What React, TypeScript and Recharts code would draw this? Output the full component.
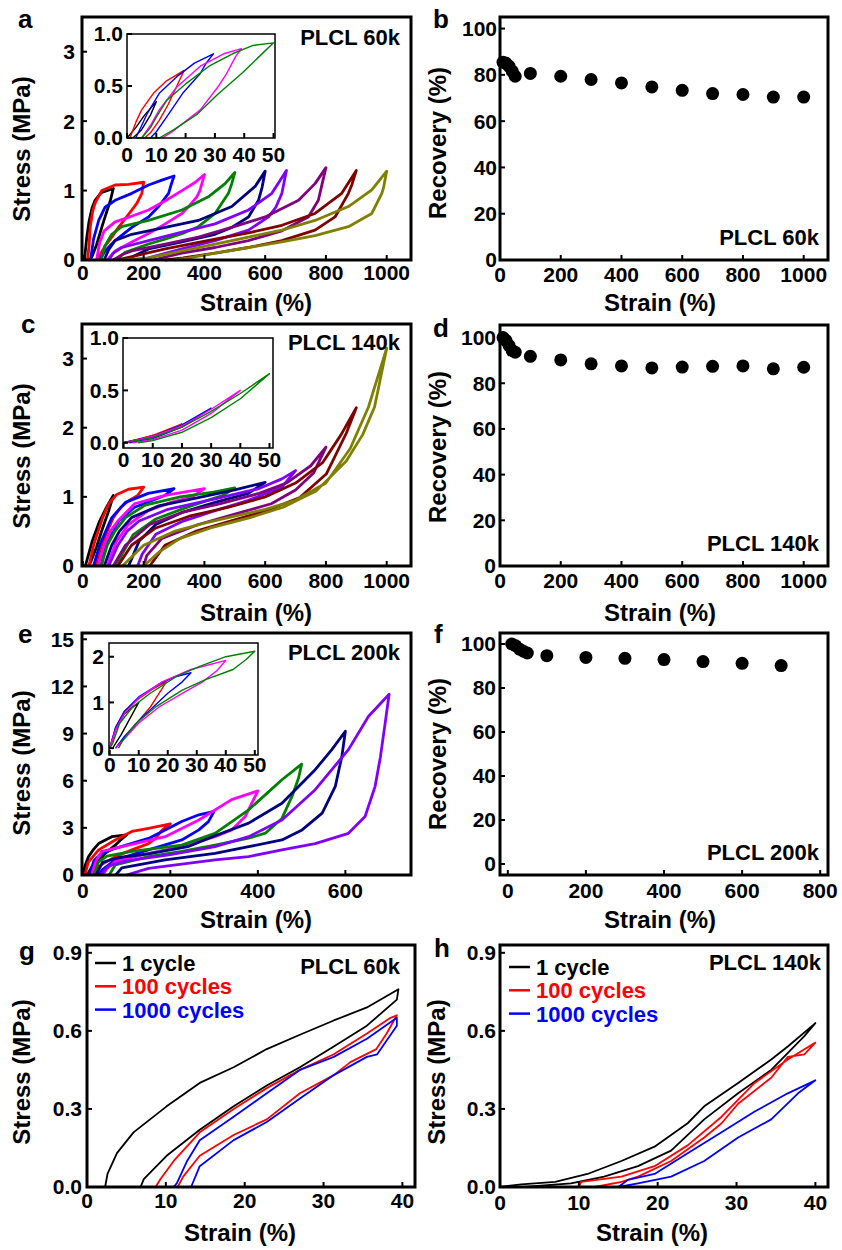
import React from 'react';
import { LineChart, Line, ScatterChart, Scatter, XAxis, YAxis } from 'recharts';

const FONT = '"Liberation Sans", Arial, Helvetica, sans-serif';

// Origin-like colour order used for the 100%, 200% ... loops
const loopColors = ['#000000', '#ff0000', '#0000ff', '#ff00ff', '#008000', '#000080', '#8000ff', '#800080', '#800000', '#808000'];
const cycleColors = ['#000000', '#ff0000', '#0000ff'];
const cycleNames = ['1 cycle', '100 cycles', '1000 cycles'];

// each loop: [strain %, stress MPa], loading then unloading
// a: PLCL 60k
const loops60k: number[][][] = [
  [[5, 0], [12, 0.3], [20, 0.55], [30, 0.75], [40, 0.86], [60, 0.97], [100, 1.03], [90, 0.85], [75, 0.65], [62, 0.47], [45, 0.22], [30, 0.05], [22, 0]],
  [[15, 0], [20, 0.2], [24, 0.47], [32, 0.7], [40, 0.82], [62, 1.0], [106, 1.08], [150, 1.09], [200, 1.12], [194, 0.96], [178, 0.82], [161, 0.72], [140, 0.6], [117, 0.47], [95, 0.33], [73, 0.2], [55, 0.07], [45, 0]],
  [[25, 0], [35, 0.3], [52, 0.57], [73, 0.76], [106, 0.86], [161, 0.96], [216, 1.08], [260, 1.15], [300, 1.21], [290, 1.08], [282, 0.96], [249, 0.77], [216, 0.62], [161, 0.47], [106, 0.28], [73, 0.13], [55, 0]],
  [[45, 0], [55, 0.25], [70, 0.42], [106, 0.55], [160, 0.63], [216, 0.72], [270, 0.85], [326, 1.0], [370, 1.12], [400, 1.23], [385, 1.0], [375, 0.91], [350, 0.78], [326, 0.67], [271, 0.52], [216, 0.38], [161, 0.26], [106, 0.13], [80, 0]],
  [[60, 0], [72, 0.2], [95, 0.37], [128, 0.48], [216, 0.57], [326, 0.72], [413, 0.91], [468, 1.1], [500, 1.26], [490, 1.1], [479, 0.96], [435, 0.67], [380, 0.48], [326, 0.38], [270, 0.3], [216, 0.23], [139, 0.11], [110, 0]],
  [[70, 0], [85, 0.15], [106, 0.28], [161, 0.37], [271, 0.47], [380, 0.57], [490, 0.77], [567, 1.06], [600, 1.28], [590, 1.05], [578, 0.86], [545, 0.62], [490, 0.47], [435, 0.37], [326, 0.26], [216, 0.16], [170, 0.06], [150, 0]],
  [[85, 0], [100, 0.1], [128, 0.18], [216, 0.28], [326, 0.4], [435, 0.52], [545, 0.72], [622, 0.96], [670, 1.29], [655, 0.96], [635, 0.76], [611, 0.62], [545, 0.43], [435, 0.28], [326, 0.16], [240, 0.06], [190, 0]],
  [[100, 0], [130, 0.08], [161, 0.13], [271, 0.23], [380, 0.33], [490, 0.47], [600, 0.62], [710, 0.86], [764, 1.1], [800, 1.33], [785, 1.05], [775, 0.86], [742, 0.62], [655, 0.42], [545, 0.28], [435, 0.18], [326, 0.1], [230, 0]],
  [[110, 0], [161, 0.05], [271, 0.16], [435, 0.3], [545, 0.39], [655, 0.5], [764, 0.67], [852, 0.96], [900, 1.29], [885, 1.08], [874, 0.96], [830, 0.62], [764, 0.43], [655, 0.28], [545, 0.18], [435, 0.1], [330, 0.03], [270, 0]],
  [[130, 0], [216, 0.03], [326, 0.13], [435, 0.23], [545, 0.33], [655, 0.43], [764, 0.57], [874, 0.77], [951, 1.01], [1000, 1.28], [990, 1.05], [984, 0.96], [951, 0.67], [874, 0.48], [764, 0.35], [655, 0.26], [545, 0.18], [435, 0.1], [350, 0.03], [300, 0]],
];
const loops60kSmall: number[][][] = [
  [[0, 0], [3, 0.1], [6, 0.22], [10, 0.35], [8, 0.22], [5, 0.08], [2, 0]],
  [[1, 0], [3, 0.15], [5, 0.27], [9, 0.43], [13.5, 0.55], [19.5, 0.65], [17, 0.5], [14, 0.32], [11, 0.17], [8, 0.05], [6, 0]],
  [[3, 0], [5, 0.12], [7, 0.24], [11, 0.43], [17, 0.59], [23, 0.72], [29.5, 0.81], [27, 0.72], [25, 0.62], [19, 0.43], [13.5, 0.2], [10, 0.06], [8, 0]],
  [[5, 0], [8, 0.12], [11, 0.27], [17, 0.49], [25, 0.69], [33, 0.81], [39, 0.86], [37, 0.78], [34, 0.62], [31, 0.49], [25, 0.27], [19, 0.14], [15.5, 0.06], [12, 0]],
  [[5, 0], [8, 0.1], [10, 0.2], [13.5, 0.36], [20, 0.52], [28, 0.69], [36, 0.81], [43, 0.89], [50, 0.915], [45, 0.78], [39.5, 0.63], [31, 0.42], [24, 0.23], [16, 0.08], [11, 0], [3, 0]],
];

// c: PLCL 140k
const loops140k: number[][][] = [
  [[8, 0], [30, 0.35], [55, 0.65], [80, 0.87], [100, 1.02], [85, 0.8], [65, 0.55], [45, 0.28], [25, 0.05], [18, 0]],
  [[20, 0], [35, 0.3], [50, 0.5], [65, 0.7], [85, 0.9], [110, 1.03], [150, 1.11], [200, 1.14], [180, 1.02], [150, 0.94], [125, 0.85], [100, 0.7], [80, 0.5], [60, 0.28], [45, 0.05], [40, 0]],
  [[35, 0], [55, 0.3], [75, 0.5], [95, 0.7], [140, 0.92], [215, 1.05], [300, 1.12], [270, 1.02], [230, 0.95], [170, 0.85], [120, 0.66], [90, 0.45], [70, 0.2], [60, 0]],
  [[50, 0], [70, 0.3], [90, 0.5], [115, 0.65], [170, 0.9], [270, 1.02], [400, 1.12], [360, 1.0], [290, 0.92], [215, 0.8], [150, 0.6], [110, 0.35], [90, 0.12], [80, 0]],
  [[60, 0], [80, 0.3], [105, 0.5], [140, 0.7], [205, 0.88], [320, 1.0], [430, 1.07], [500, 1.13], [460, 1.02], [410, 0.95], [330, 0.83], [240, 0.68], [165, 0.45], [130, 0.18], [110, 0]],
  [[70, 0], [95, 0.3], [120, 0.5], [160, 0.7], [250, 0.87], [380, 0.99], [500, 1.1], [600, 1.21], [545, 1.05], [435, 0.92], [330, 0.78], [240, 0.6], [185, 0.36], [160, 0.1], [150, 0]],
  [[85, 0], [115, 0.3], [145, 0.5], [185, 0.65], [280, 0.82], [435, 0.97], [580, 1.12], [655, 1.26], [700, 1.38], [655, 1.14], [545, 0.95], [435, 0.8], [330, 0.65], [240, 0.46], [195, 0.17], [180, 0]],
  [[100, 0], [140, 0.3], [220, 0.6], [330, 0.78], [450, 0.9], [580, 1.05], [670, 1.2], [750, 1.45], [800, 1.72], [760, 1.35], [700, 1.1], [620, 0.9], [500, 0.75], [380, 0.6], [260, 0.4], [210, 0.15], [200, 0]],
  [[115, 0], [160, 0.3], [240, 0.55], [350, 0.72], [480, 0.85], [600, 1.0], [700, 1.2], [790, 1.5], [850, 1.9], [900, 2.29], [867, 1.92], [801, 1.33], [714, 0.99], [604, 0.8], [494, 0.66], [370, 0.5], [270, 0.3], [220, 0]],
  [[130, 0], [200, 0.3], [300, 0.5], [400, 0.62], [500, 0.72], [600, 0.82], [700, 0.95], [800, 1.2], [880, 1.7], [940, 2.3], [1000, 3.15], [960, 2.3], [921, 1.9], [867, 1.52], [769, 1.09], [659, 0.85], [550, 0.7], [420, 0.55], [320, 0.4], [250, 0.2], [200, 0]],
];
const loops140kSmall: number[][][] = [
  [[0, 0], [5, 0.03], [10, 0.07], [5, 0.02], [0, 0]],
  [[0, 0], [10, 0.07], [20, 0.18], [10, 0.05], [1, 0]],
  [[0, 0], [10, 0.06], [20, 0.17], [30, 0.33], [20, 0.15], [10, 0.04], [2, 0]],
  [[0, 0], [10, 0.06], [20, 0.16], [30, 0.32], [40, 0.5], [30, 0.28], [20, 0.12], [10, 0.03], [3, 0]],
  [[0, 0], [10, 0.05], [20, 0.15], [30, 0.3], [40, 0.47], [50, 0.66], [40, 0.42], [30, 0.24], [20, 0.1], [10, 0.02], [5, 0]],
];

// e: PLCL 200k
const loops200k: number[][][] = [
  [[0, 0], [5, 0.6], [13, 1.17], [25, 1.65], [36, 2.0], [66, 2.44], [100, 2.55], [85, 2.2], [74, 1.9], [51, 1.38], [35, 0.9], [20, 0.5], [10, 0]],
  [[5, 0], [12, 0.8], [36, 1.6], [74, 2.23], [112, 2.77], [150, 2.97], [200, 3.25], [181, 2.85], [165, 2.3], [150, 2.0], [112, 1.6], [74, 1.17], [36, 0.55], [25, 0]],
  [[15, 0], [25, 0.9], [40, 1.3], [74, 1.7], [150, 2.33], [226, 3.4], [265, 3.83], [300, 4.05], [287, 3.4], [265, 2.87], [226, 2.23], [150, 1.6], [74, 0.96], [45, 0.35], [35, 0]],
  [[20, 0], [30, 0.9], [43, 1.5], [112, 1.95], [188, 2.44], [265, 3.5], [340, 4.8], [400, 5.35], [386, 4.58], [371, 3.72], [340, 2.87], [302, 2.44], [226, 1.8], [150, 1.38], [74, 0.85], [55, 0.4], [45, 0]],
  [[25, 0], [35, 0.8], [55, 1.2], [112, 1.5], [226, 1.9], [302, 2.65], [379, 4.15], [455, 6.06], [500, 7.05], [493, 6.17], [478, 5.0], [455, 3.6], [417, 2.66], [379, 2.34], [302, 1.9], [226, 1.5], [150, 1.17], [74, 0.64], [60, 0]],
  [[30, 0], [45, 0.8], [80, 1.1], [150, 1.35], [240, 1.8], [302, 2.5], [379, 3.3], [455, 4.57], [531, 6.7], [569, 7.98], [600, 9.15], [592, 7.55], [577, 5.64], [547, 3.94], [501, 2.87], [455, 2.23], [379, 1.8], [302, 1.38], [188, 0.96], [89, 0.45], [75, 0]],
  [[40, 0], [60, 0.6], [100, 0.9], [200, 1.3], [302, 1.8], [379, 2.44], [455, 3.5], [531, 5.43], [607, 7.98], [653, 10.1], [700, 11.5], [691, 9.68], [680, 7.5], [668, 5.64], [645, 3.72], [607, 2.65], [531, 2.0], [455, 1.6], [379, 1.17], [302, 0.96], [150, 0.42], [100, 0]],
];
const loops200kSmall: number[][][] = [
  [[0, 0], [2, 0.4], [5, 0.75], [10, 1.0], [7, 0.65], [4, 0.3], [1, 0]],
  [[0, 0], [2, 0.45], [5, 0.8], [10, 1.08], [15, 1.3], [19.5, 1.45], [17, 1.2], [14, 0.9], [10, 0.6], [6, 0.3], [2, 0]],
  [[0, 0], [2, 0.45], [5, 0.8], [10, 1.12], [17, 1.4], [22, 1.55], [28, 1.65], [25, 1.45], [20, 1.2], [15, 0.9], [10, 0.6], [5, 0.25], [2, 0]],
  [[0, 0], [2, 0.4], [5, 0.75], [10, 1.1], [18, 1.45], [28, 1.72], [40, 1.92], [37, 1.7], [32, 1.45], [25, 1.2], [17, 0.9], [10, 0.55], [5, 0.2], [2, 0]],
  [[0, 0], [1, 0.1], [3.4, 0.54], [8, 0.91], [14, 1.2], [23, 1.57], [31, 1.79], [40, 2.0], [50, 2.12], [47, 1.94], [42.5, 1.72], [33, 1.5], [25, 1.27], [16, 0.91], [9, 0.54], [4.6, 0.18], [3, 0]],
];

// recovery (%) vs strain (%)
const recStrain = [10, 20, 30, 40, 50, 100, 200, 300, 400, 500, 600, 700, 800, 900, 1000];
const recovery60k = [85.5, 85, 83.7, 81.6, 79.4, 80.6, 79.4, 78, 76.5, 74.8, 73.3, 71.9, 71.5, 70.4, 70.4];
const recovery140k = [100, 98.7, 96.5, 94.3, 93.6, 91.8, 90.2, 88.5, 87.6, 86.7, 87.1, 87.4, 87.6, 86.3, 87];
const recStrain200k = [10, 20, 30, 40, 50, 100, 200, 300, 400, 500, 600, 700];
const recovery200k = [100, 99.2, 97.7, 96.7, 95.9, 94.7, 93.9, 93.5, 92.9, 92, 91.2, 90.2];

// g, h: 40% cyclic loops after 1, 100, 1000 cycles
const cycles60k: number[][][] = [
  [[0, 0], [2.3, 0], [2.6, 0.05], [3.8, 0.13], [5.9, 0.21], [10.1, 0.31], [14.3, 0.4], [18.6, 0.46], [22.8, 0.53], [27, 0.585], [31.3, 0.64], [35.5, 0.69], [39.5, 0.76], [39.3, 0.72], [35.5, 0.62], [31.3, 0.54], [27, 0.46], [22.8, 0.39], [18.6, 0.31], [14.3, 0.22], [10.1, 0.12], [7.2, 0.03], [6.8, 0]],
  [[3, 0], [8.7, 0], [9.3, 0.03], [11, 0.1], [14.3, 0.21], [18.6, 0.3], [22.8, 0.38], [27, 0.45], [31.3, 0.51], [35.5, 0.59], [38.5, 0.65], [39.3, 0.66], [38, 0.59], [36.7, 0.53], [33.4, 0.48], [31.3, 0.43], [27, 0.36], [22.8, 0.26], [18.6, 0.2], [14.3, 0.12], [12.2, 0.04], [11.5, 0]],
  [[1, 0], [11, 0], [11.4, 0.015], [12.7, 0.1], [14.3, 0.18], [18.6, 0.27], [22.8, 0.36], [27, 0.45], [31.3, 0.5], [35.5, 0.57], [39.3, 0.65], [39.3, 0.62], [36.8, 0.51], [35.5, 0.5], [31.3, 0.43], [27, 0.34], [22.8, 0.25], [18.6, 0.18], [14.3, 0.08], [13.2, 0], [11, 0]],
];
const cycles140k: number[][][] = [
  [[0, 0], [2.7, 0.01], [7, 0.02], [11.1, 0.05], [15.4, 0.1], [19.6, 0.155], [23.8, 0.245], [25.9, 0.31], [30.2, 0.4], [34.4, 0.49], [36.5, 0.54], [40, 0.63], [38.6, 0.58], [34.4, 0.45], [30.2, 0.36], [25.9, 0.26], [21.7, 0.14], [17.5, 0.08], [13.2, 0.04], [9, 0.014], [3, 0]],
  [[10, 0], [10.3, 0.02], [15.4, 0.04], [19.6, 0.08], [23.8, 0.16], [28.1, 0.27], [32.3, 0.4], [36.5, 0.49], [40, 0.555], [38.6, 0.51], [36.5, 0.5], [34.4, 0.42], [30.2, 0.32], [28.1, 0.245], [25.9, 0.19], [21.7, 0.1], [17.5, 0.04], [15.4, 0.02], [12, 0]],
  [[0, 0], [15, 0], [16.2, 0.027], [19.6, 0.05], [23.8, 0.13], [28.1, 0.21], [32.3, 0.29], [36.5, 0.36], [40, 0.41], [37.8, 0.36], [34.4, 0.26], [30.2, 0.19], [25.9, 0.1], [21.7, 0.04], [17.5, 0.014], [15, 0]],
];

const strainTicks1000 = [0, 200, 400, 600, 800, 1000];
const strainTicks800 = [0, 200, 400, 600, 800];
const strainTicks600 = [0, 200, 400, 600];
const insetTicks = [0, 10, 20, 30, 40, 50];
const cycleTicks = [0, 10, 20, 30, 40];
const recTicks = [0, 20, 40, 60, 80, 100];

type Box = { left: number; top: number; width: number; height: number };
const YW = 70;
const MT = 20;
const MR = 45;
const XH = 45;

const tickFont = { fill: '#000', fontSize: 21, fontWeight: 700, fontFamily: FONT };
const tickLineStyle = { stroke: '#000', strokeWidth: 2 };
const fmt1 = (v: number) => v.toFixed(1);

interface LoopProps {
  box: Box;
  loops: number[][][];
  colors: string[];
  xDomain: number[];
  yDomain: number[];
  xTicks: number[];
  yTicks: number[];
  yFmt?: (v: number) => string;
  xTm: number;
  yTm: number;
  sw: number;
}

function LoopPanel({ box, loops, colors, xDomain, yDomain, xTicks, yTicks, yFmt, xTm, yTm, sw }: LoopProps) {
  return (
    <div style={{ position: 'absolute', left: box.left - YW, top: box.top - MT }}>
      <LineChart width={box.width + YW + MR} height={box.height + MT + XH} margin={{ top: MT, right: MR, bottom: 0, left: 0 }}>
        <XAxis type="number" dataKey="x" domain={xDomain} ticks={xTicks} interval={0} height={XH} axisLine={false}
          tickSize={-5} tickMargin={xTm} tick={tickFont} tickLine={tickLineStyle} />
        <YAxis type="number" dataKey="y" domain={yDomain} ticks={yTicks} interval={0} width={YW} axisLine={false}
          tickSize={-5} tickMargin={yTm} tick={tickFont} tickLine={tickLineStyle} tickFormatter={yFmt} />
        {loops.map((loop, i) => (
          <Line key={i} data={loop.map(([x, y]) => ({ x, y }))} dataKey="y" type="linear" stroke={colors[i]}
            strokeWidth={sw} strokeLinejoin="round" dot={false} activeDot={false} isAnimationActive={false} />
        ))}
      </LineChart>
    </div>
  );
}

interface RecProps {
  box: Box;
  strain: number[];
  recovery: number[];
  xDomain: number[];
  yDomain: number[];
  xTicks: number[];
  xTm: number;
  yTm: number;
}

function RecoveryPanel({ box, strain, recovery, xDomain, yDomain, xTicks, xTm, yTm }: RecProps) {
  const data = strain.map((x, i) => ({ x, y: recovery[i] }));
  return (
    <div style={{ position: 'absolute', left: box.left - YW, top: box.top - MT }}>
      <ScatterChart width={box.width + YW + MR} height={box.height + MT + XH} margin={{ top: MT, right: MR, bottom: 0, left: 0 }}>
        <XAxis type="number" dataKey="x" domain={xDomain} ticks={xTicks} interval={0} height={XH} axisLine={false}
          tickSize={-5} tickMargin={xTm} tick={tickFont} tickLine={tickLineStyle} />
        <YAxis type="number" dataKey="y" domain={yDomain} ticks={recTicks} interval={0} width={YW} axisLine={false}
          tickSize={-5} tickMargin={yTm} tick={tickFont} tickLine={tickLineStyle} />
        <Scatter data={data} isAnimationActive={false}
          shape={(p: any) => <circle cx={p.cx} cy={p.cy} r={6.5} fill="#000" />} />
      </ScatterChart>
    </div>
  );
}

const boxA: Box = { left: 82, top: 17, width: 329, height: 243 };
const boxB: Box = { left: 500, top: 17, width: 328, height: 243 };
const boxC: Box = { left: 82, top: 324, width: 329, height: 242 };
const boxD: Box = { left: 500, top: 325, width: 328, height: 241 };
const boxE: Box = { left: 82, top: 633, width: 329, height: 242 };
const boxF: Box = { left: 500, top: 633, width: 328, height: 242 };
const boxG: Box = { left: 87, top: 945, width: 328, height: 242 };
const boxH: Box = { left: 500, top: 945, width: 328, height: 242 };
const boxAi: Box = { left: 127, top: 34, width: 148, height: 104 };
const boxCi: Box = { left: 123, top: 338, width: 150, height: 110 };
const boxEi: Box = { left: 109, top: 643, width: 149, height: 112 };

const mainBoxes = [boxA, boxB, boxC, boxD, boxE, boxF, boxG, boxH];
const insetBoxes = [boxAi, boxCi, boxEi];

const letters = [
  { t: 'a', x: 18, y: 28 }, { t: 'b', x: 433, y: 28 },
  { t: 'c', x: 21, y: 333 }, { t: 'd', x: 433, y: 337 },
  { t: 'e', x: 18, y: 643 }, { t: 'f', x: 434, y: 643 },
  { t: 'g', x: 19, y: 960 }, { t: 'h', x: 434, y: 957 },
];
const tags = [
  { t: 'PLCL 60k', x: 400, y: 45 }, { t: 'PLCL 60k', x: 819, y: 245 },
  { t: 'PLCL 140k', x: 400, y: 350 }, { t: 'PLCL 140k', x: 819, y: 551 },
  { t: 'PLCL 200k', x: 400, y: 660 }, { t: 'PLCL 200k', x: 819, y: 860 },
  { t: 'PLCL 60k', x: 400, y: 974 }, { t: 'PLCL 140k', x: 821, y: 970 },
];
const yTitles = [
  { t: 'Stress (MPa)', x: 30, y: 149 }, { t: 'Recovery (%)', x: 446, y: 143 },
  { t: 'Stress (MPa)', x: 30, y: 456 }, { t: 'Recovery (%)', x: 446, y: 447 },
  { t: 'Stress (MPa)', x: 30, y: 763 }, { t: 'Recovery (%)', x: 446, y: 754 },
  { t: 'Stress (MPa)', x: 30, y: 1072 }, { t: 'Stress (MPa)', x: 445, y: 1072 },
];
const xTitles = [
  { x: 256, y: 311 }, { x: 660, y: 311 },
  { x: 256, y: 621 }, { x: 660, y: 621 },
  { x: 256, y: 928 }, { x: 660, y: 928 },
  { x: 240, y: 1241 }, { x: 652, y: 1241 },
];
const legends = [
  { x: 95, y: 963 },
  { x: 509, y: 967 },
];

export default function App() {
  return (
    <div style={{ position: 'absolute', left: 0, top: 0, width: 842, height: 1250, background: '#fff', overflow: 'hidden' }}>
      <LoopPanel box={boxA} loops={loops60k} colors={loopColors} xDomain={[-3, 1080]} yDomain={[0, 3.5]}
        xTicks={strainTicks1000} yTicks={[0, 1, 2, 3]} xTm={10} yTm={12} sw={2.8} />
      <LoopPanel box={boxAi} loops={loops60kSmall} colors={loopColors} xDomain={[0, 50.5]} yDomain={[0, 1]}
        xTicks={insetTicks} yTicks={[0, 0.5, 1]} yFmt={fmt1} xTm={14} yTm={9} sw={1.4} />
      <RecoveryPanel box={boxB} strain={recStrain} recovery={recovery60k} xDomain={[0, 1080]} yDomain={[0, 105]}
        xTicks={strainTicks1000} xTm={12} yTm={8} />

      <LoopPanel box={boxC} loops={loops140k} colors={loopColors} xDomain={[-3, 1080]} yDomain={[0, 3.5]}
        xTicks={strainTicks1000} yTicks={[0, 1, 2, 3]} xTm={12} yTm={13} sw={2.8} />
      <LoopPanel box={boxCi} loops={loops140kSmall} colors={loopColors} xDomain={[-0.2, 51.2]} yDomain={[-0.05, 1]}
        xTicks={insetTicks} yTicks={[0, 0.5, 1]} yFmt={fmt1} xTm={9} yTm={9} sw={1.4} />
      <RecoveryPanel box={boxD} strain={recStrain} recovery={recovery140k} xDomain={[0, 1080]} yDomain={[0, 105.5]}
        xTicks={strainTicks1000} xTm={12} yTm={9} />

      <LoopPanel box={boxE} loops={loops200k} colors={loopColors} xDomain={[-2, 750]} yDomain={[0, 15.4]}
        xTicks={strainTicks600} yTicks={[0, 3, 6, 9, 12, 15]} xTm={13} yTm={13} sw={2.8} />
      <LoopPanel box={boxEi} loops={loops200kSmall} colors={loopColors} xDomain={[-0.25, 51.1]} yDomain={[-0.15, 2.3]}
        xTicks={insetTicks} yTicks={[0, 1, 2]} xTm={7} yTm={10} sw={1.4} />
      <RecoveryPanel box={boxF} strain={recStrain200k} recovery={recovery200k} xDomain={[-20, 820]} yDomain={[-5, 105]}
        xTicks={strainTicks800} xTm={13} yTm={9} />

      <LoopPanel box={boxG} loops={cycles60k} colors={cycleColors} xDomain={[0, 41.6]} yDomain={[0, 0.93]}
        xTicks={cycleTicks} yTicks={[0, 0.3, 0.6, 0.9]} yFmt={fmt1} xTm={11} yTm={10} sw={1.8} />
      <LoopPanel box={boxH} loops={cycles140k} colors={cycleColors} xDomain={[0, 41.6]} yDomain={[0, 0.93]}
        xTicks={cycleTicks} yTicks={[0, 0.3, 0.6, 0.9]} yFmt={fmt1} xTm={13} yTm={9} sw={1.8} />

      <svg width={842} height={1250} style={{ position: 'absolute', left: 0, top: 0, pointerEvents: 'none' }}
        fontFamily={FONT} fontWeight={700}>
        {mainBoxes.map((b, i) => (
          <rect key={'m' + i} x={b.left} y={b.top} width={b.width} height={b.height} fill="none" stroke="#000" strokeWidth={3} />
        ))}
        {insetBoxes.map((b, i) => (
          <rect key={'i' + i} x={b.left} y={b.top} width={b.width} height={b.height} fill="none" stroke="#000" strokeWidth={1.5} />
        ))}
        {letters.map((l) => (
          <text key={l.t} x={l.x} y={l.y} fontSize={26} fill="#000">{l.t}</text>
        ))}
        {tags.map((l, i) => (
          <text key={'t' + i} x={l.x} y={l.y} fontSize={22} textAnchor="end" fill="#000">{l.t}</text>
        ))}
        {yTitles.map((l, i) => (
          <text key={'y' + i} x={l.x} y={l.y} fontSize={24} textAnchor="middle" fill="#000"
            transform={`rotate(-90 ${l.x} ${l.y})`}>{l.t}</text>
        ))}
        {xTitles.map((l, i) => (
          <text key={'x' + i} x={l.x} y={l.y} fontSize={24} textAnchor="middle" fill="#000">Strain (%)</text>
        ))}
        {legends.map((g, gi) => (
          <g key={'lg' + gi}>
            {cycleNames.map((name, i) => (
              <g key={name}>
                <line x1={g.x} x2={g.x + 21} y1={g.y + i * 23.3} y2={g.y + i * 23.3} stroke={cycleColors[i]} strokeWidth={2.5} />
                <text x={g.x + 27} y={g.y + i * 23.3 + 8} fontSize={22} fill={cycleColors[i]}>{name}</text>
              </g>
            ))}
          </g>
        ))}
      </svg>
    </div>
  );
}
